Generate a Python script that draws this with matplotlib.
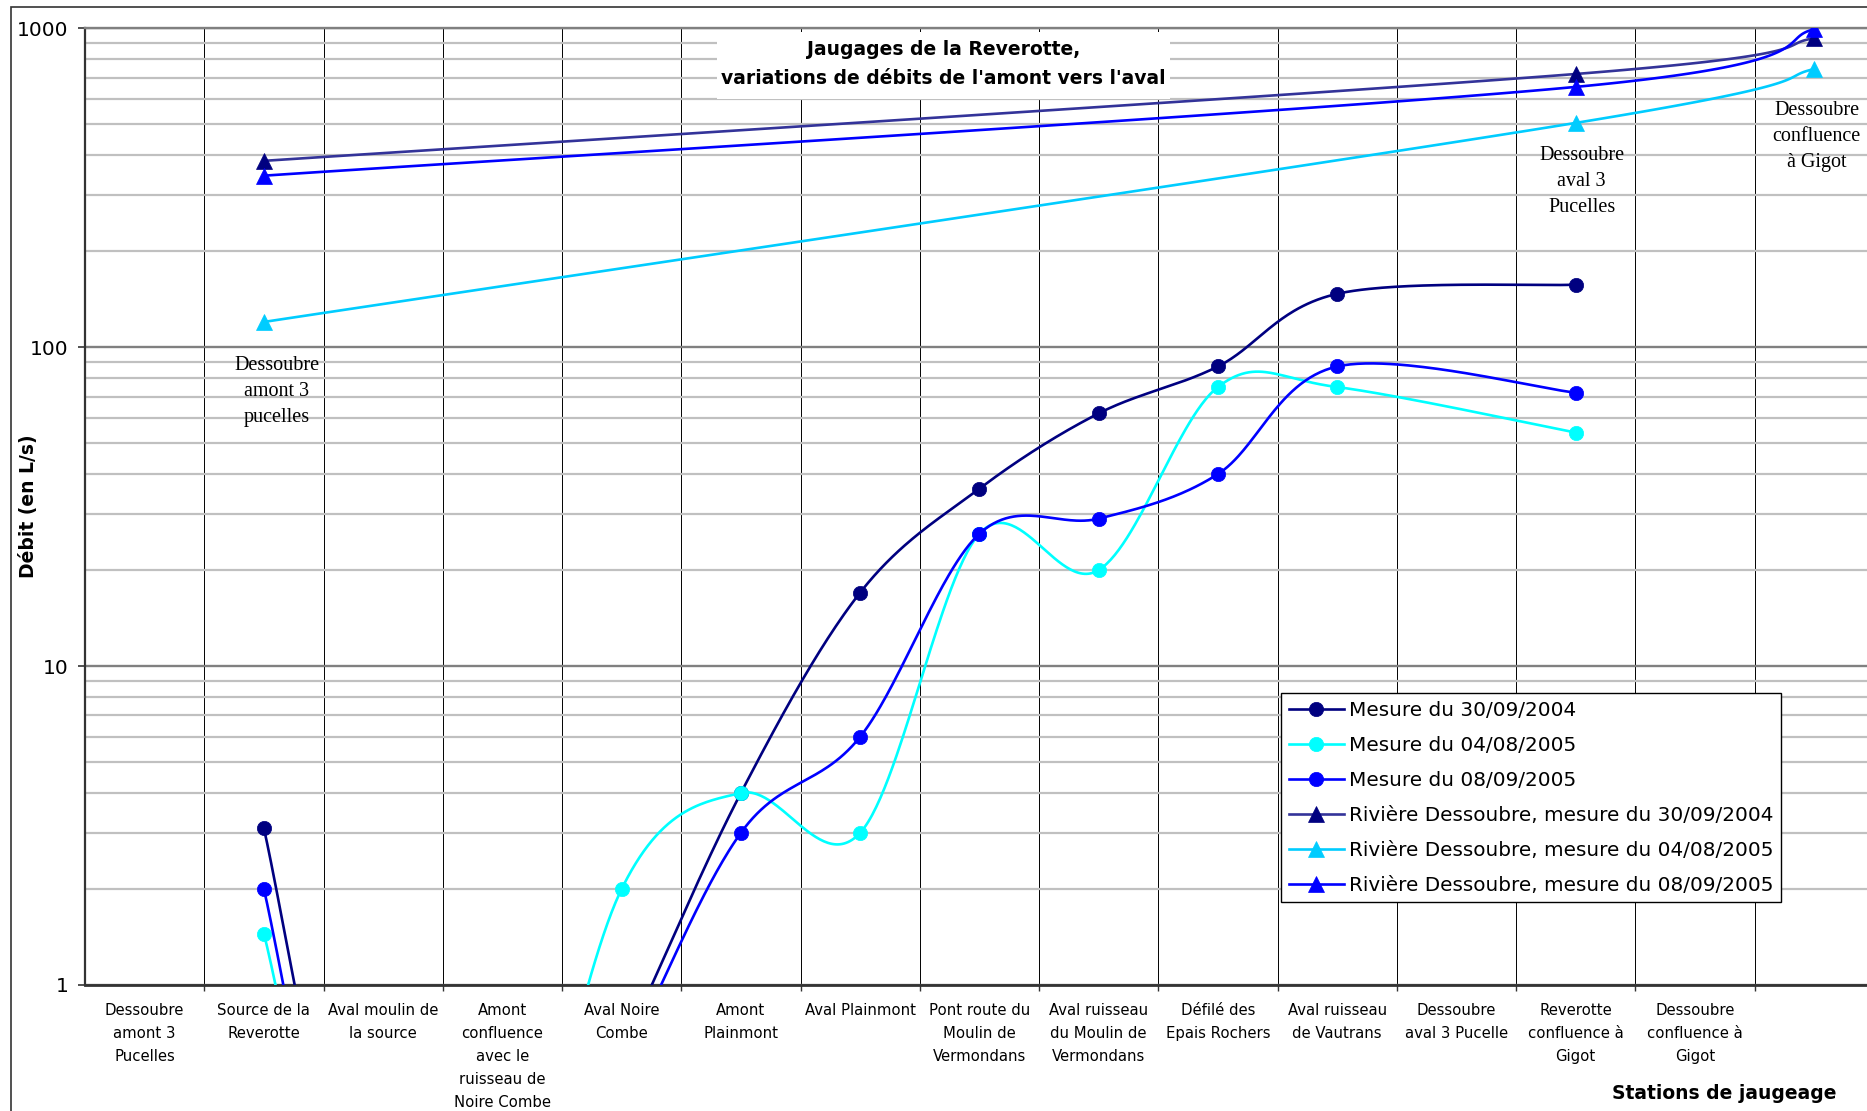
import numpy as np
import matplotlib.pyplot as plt
from matplotlib.patches import Rectangle
from matplotlib.ticker import FixedLocator, NullFormatter

nan = np.nan

# Stations (x categories); the last category has no label
stations = ["Dessoubre\namont 3\nPucelles", "Source de la\nReverotte",
            "Aval moulin de\nla source",
            "Amont\nconfluence\navec le\nruisseau de\nNoire Combe",
            "Aval Noire\nCombe", "Amont\nPlainmont", "Aval Plainmont",
            "Pont route du\nMoulin de\nVermondans",
            "Aval ruisseau\ndu Moulin de\nVermondans",
            "Défilé des\nEpais Rochers", "Aval ruisseau\nde Vautrans",
            "Dessoubre\naval 3 Pucelle", "Reverotte\nconfluence à\nGigot",
            "Dessoubre\nconfluence à\nGigot", ""]

# Débits in L/s (nan = no measure)
mesure_2004 = [nan, 3.1, 0.07, 0.1, 0.62, 4, 17, 36, 62, 87, 147, nan, 157, nan, nan]
mesure_0805 = [nan, 1.45, 0.05, 0.12, 2, 4, 3, 26, 20, 75, 75, nan, 54, nan, nan]
mesure_0905 = [nan, 2, 0.05, 0.1, 0.55, 3, 6, 26, 29, 40, 87, nan, 72, nan, nan]
dessoubre_2004 = [nan, 384, nan, nan, nan, nan, nan, nan, nan, nan, nan, nan, 719, nan, 930]
dessoubre_0805 = [nan, 120, nan, nan, nan, nan, nan, nan, nan, nan, nan, nan, 505, nan, 745]
dessoubre_0905 = [nan, 345, nan, nan, nan, nan, nan, nan, nan, nan, nan, nan, 655, nan, 993]

labels = ["Mesure du 30/09/2004", "Mesure du 04/08/2005", "Mesure du 08/09/2005",
          "Rivière Dessoubre, mesure du 30/09/2004",
          "Rivière Dessoubre, mesure du 04/08/2005",
          "Rivière Dessoubre, mesure du 08/09/2005"]


# Excel-like smoothed line (Catmull-Rom bezier in x / log10(y) space)
def smooth(values, n=60):
    x = np.arange(len(values), dtype=float)
    y = np.array(values, dtype=float)
    keep = ~np.isnan(y)
    pts = np.column_stack([x[keep], np.log10(y[keep])])
    out = [pts[0]]
    t = np.linspace(0, 1, n)[1:, None]
    for i in range(len(pts) - 1):
        p0 = pts[i - 1] if i > 0 else pts[i]
        p1 = pts[i]
        p2 = pts[i + 1]
        p3 = pts[i + 2] if i + 2 < len(pts) else pts[i + 1]
        c1 = p1 + (p2 - p0) / 6
        c2 = p2 - (p3 - p1) / 6
        seg = (1 - t) ** 3 * p1 + 3 * (1 - t) ** 2 * t * c1 + 3 * (1 - t) * t ** 2 * c2 + t ** 3 * p2
        out.extend(seg)
    out = np.array(out)
    return out[:, 0], 10 ** out[:, 1]


W, H = 1867, 1111
fig = plt.figure(figsize=(W / 100, H / 100), dpi=100)
ax = fig.add_axes([85 / W, 1 - 985 / H, 1788.75 / W, 956.7 / H])

series = [
    (mesure_2004, "#000080", "#000080", "o", 10.3),
    (mesure_0805, "#00FFFF", "#00FFFF", "o", 10.3),
    (mesure_0905, "#0000FF", "#0000FF", "o", 10.3),
    (dessoubre_2004, "#333399", "#000080", "^", 11),
    (dessoubre_0805, "#00CCFF", "#00CCFF", "^", 11),
    (dessoubre_0905, "#0000FF", "#0000FF", "^", 11),
]

handles = []
for k, (vals, lc, mc, mk, ms) in enumerate(series):
    sx, sy = smooth(vals)
    ax.plot(sx, sy, color=lc, lw=1.9, zorder=3 + k * 0.1, solid_capstyle="round")
    ax.plot(np.arange(len(vals)), vals, ls="none", marker=mk, ms=ms,
            mfc=mc, mec=mc, mew=0.5, zorder=3.05 + k * 0.1)
    h, = ax.plot([], [], color=lc, lw=1.9, marker=mk, ms=ms, mfc=mc, mec=mc, mew=0.5)
    handles.append(h)

ax.set_yscale("log")
ax.set_ylim(1, 1000)
ax.set_xlim(-0.5, len(stations) - 0.5)

# y axis
ax.yaxis.set_major_locator(FixedLocator([1, 10, 100, 1000]))
ax.set_yticklabels(["1", "10", "100", "1000"])
ax.yaxis.set_minor_locator(FixedLocator([m * 10 ** e for e in range(3) for m in range(2, 10)]))
ax.yaxis.set_minor_formatter(NullFormatter())
ax.tick_params(axis="y", which="major", length=5, width=1.2, color="#333333",
               pad=7, labelsize=14.5)
ax.tick_params(axis="y", which="minor", length=0)
ax.grid(axis="y", which="minor", color="#C0C0C0", lw=1.6)
ax.grid(axis="y", which="major", color="#808080", lw=1.7)

# x axis: labels centred, ticks and grid between categories
ax.set_xticks(np.arange(len(stations)))
ax.set_xticklabels(stations, fontsize=10.7, linespacing=1.67)
ax.xaxis.set_minor_locator(FixedLocator(np.arange(len(stations) - 1) + 0.5))
ax.tick_params(axis="x", which="major", length=0, pad=13)
ax.tick_params(axis="x", which="minor", length=4, width=1, color="#333333")
ax.grid(axis="x", which="minor", color="#000000", lw=0.7)
ax.set_axisbelow(True)

ax.spines["right"].set_visible(False)
ax.spines["top"].set_color("#808080")
ax.spines["top"].set_linewidth(1.7)
ax.spines["left"].set_color("#333333")
ax.spines["left"].set_linewidth(1.6)
ax.spines["bottom"].set_color("#333333")
ax.spines["bottom"].set_linewidth(2)

ax.set_ylabel("Débit (en L/s)", fontsize=13.5, fontweight="bold")
ax.yaxis.set_label_coords(-0.026, 0.5)
ax.set_xlabel("Stations de jaugeage", fontsize=13.5, fontweight="bold")
ax.xaxis.set_label_coords(0.9163, -0.104)

# title with white box
ax.add_patch(Rectangle((0.3533, 0.9261), 0.2533, 0.0700, transform=ax.transAxes,
                       facecolor="white", edgecolor="none", zorder=2))
ax.text(0.48, 0.963, "Jaugages de la Reverotte,\nvariations de débits de l'amont vers l'aval",
        transform=ax.transAxes, ha="center", va="center", fontsize=13.5,
        fontweight="bold", linespacing=1.65, zorder=10)

# data labels
serif = dict(family="Liberation Serif", fontsize=14.5, ha="center", va="center",
             linespacing=1.5, zorder=10)
ax.text(1.11, 72.6, "Dessoubre\namont 3\npucelles", **serif)
ax.text(12.05, 330, "Dessoubre\naval 3\nPucelles", **serif)
ax.text(14.02, 458, "Dessoubre\nconfluence\nà Gigot", **serif)

leg = ax.legend(handles, labels, loc="upper left", bbox_to_anchor=(0.6686, 0.3052),
                borderaxespad=0, fontsize=14.4, frameon=True, fancybox=False,
                edgecolor="black", framealpha=1, handlelength=2.75,
                handletextpad=0.25, labelspacing=0.8, borderpad=0.38)
leg.get_frame().set_linewidth(1)
leg.set_zorder(20)

# outer chart border (cropped on right and bottom)
fig.add_artist(Rectangle((11 / W, -0.1), 2, 1 - 7 / H + 0.1, transform=fig.transFigure,
                         fill=False, edgecolor="#333333", lw=1.2))

fig.savefig("out.png", dpi=100)
